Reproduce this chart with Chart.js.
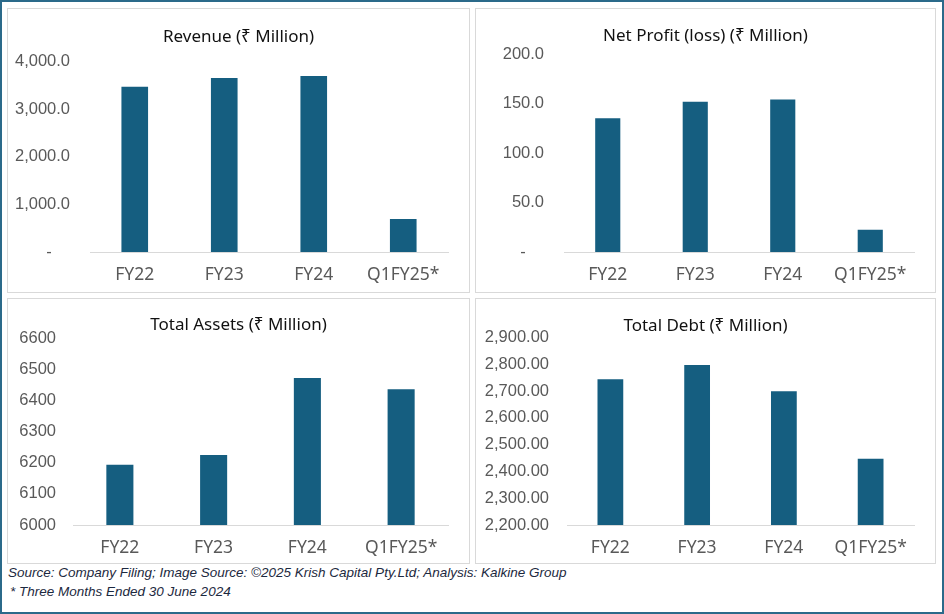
<!DOCTYPE html>
<html>
<head>
<meta charset="utf-8">
<script src="https://cdn.jsdelivr.net/npm/chart.js@4.4.1/dist/chart.umd.min.js"></script>
<style>
  body { margin: 0; background: #fff; }
  #frame {
    position: relative; width: 940px; height: 610px;
    border: 2px solid #2b6a8a; background: #fff; overflow: hidden;
  }
  .panel { position: absolute; border: 1px solid #d9d9d9; background: #fff; }
  .panel canvas { display: block; }
  .note {
    position: absolute; left: 6px; font: italic 13.5px "Liberation Sans", Arial, sans-serif;
    color: #1c2940; white-space: nowrap;
  }
</style>
</head>
<body>
<div id="frame">
  <div class="panel" style="left:5px;top:6px;width:461px;height:283px"><canvas id="c1" width="461" height="283"></canvas></div>
  <div class="panel" style="left:473px;top:6px;width:459px;height:283px"><canvas id="c2" width="459" height="283"></canvas></div>
  <div class="panel" style="left:5px;top:296px;width:461px;height:264px"><canvas id="c3" width="461" height="264"></canvas></div>
  <div class="panel" style="left:473px;top:296px;width:459px;height:264px"><canvas id="c4" width="459" height="264"></canvas></div>
  <div class="note" style="top:563px">Source: Company Filing; Image Source: ©2025 Krish Capital Pty.Ltd; Analysis: Kalkine Group</div>
  <div class="note" style="top:582px;left:8px">* Three Months Ended 30 June 2024</div>
</div>
<script>
// periods on the x axis
const periods = ["FY22", "FY23", "FY24", "Q1FY25*"];

// values (₹ Million)
const revenue = [3490, 3670, 3715, 715];
const netProfit = [136.5, 153.0, 155.3, 23.5];
const totalAssets = [6197, 6228, 6476, 6440];
const totalDebt = [2748, 2801, 2703, 2451];

const barColor = "#155e80";
const textFont = "'Noto Sans', 'DejaVu Sans', sans-serif";
const tickFont = "'Liberation Sans', Arial, sans-serif";

function fmt(decimals, dashZero, grouping) {
  return function (v) {
    if (dashZero && v === 0) return "-    ";
    return v.toLocaleString("en-US", {
      minimumFractionDigits: decimals, maximumFractionDigits: decimals, useGrouping: grouping,
    });
  };
}

function makeChart(id, title, values, y, g) {
  const ctx = document.getElementById(id).getContext("2d");
  return new Chart(ctx, {
    type: "bar",
    data: {
      labels: periods,
      datasets: [{
        data: values,
        backgroundColor: barColor,
        borderColor: "rgba(255,255,255,0.5)",
        borderWidth: 1,
        barPercentage: g.bar,
        categoryPercentage: 1,
      }],
    },
    options: {
      responsive: false,
      animation: false,
      layout: { padding: 0 },
      plugins: {
        legend: { display: false },
        tooltip: { enabled: false },
        title: {
          display: true,
          text: title,
          color: "#111",
          font: { family: textFont, size: 17, weight: "normal" },
          padding: { top: g.titleTop, bottom: g.titleBottom },
        },
      },
      scales: {
        x: {
          grid: { display: true, drawOnChartArea: false, drawTicks: false },
          border: { display: true, color: "#d9d9d9", width: 1 },
          ticks: { color: "#595959", font: { family: textFont, size: 17.5 }, padding: 13 },
          afterFit: (s) => { s.height = g.xh; },
        },
        y: {
          min: y.min, max: y.max,
          grid: { display: false, drawTicks: false },
          border: { display: false },
          ticks: { stepSize: y.step, color: "#595959", font: { family: tickFont, size: 16.5 }, padding: g.pad, callback: y.fmt },
          afterFit: (s) => { s.width = g.yw; },
        },
        // empty right-hand gutter so the title stays centred on the panel
        gutter: {
          type: "linear", position: "right", display: true,
          grid: { display: false }, border: { display: false }, ticks: { display: false },
          afterFit: (s) => { s.width = 21; },
        },
      },
    },
  });
}

makeChart("c1", "Revenue (₹ Million)", revenue,
  { min: 0, max: 4000, step: 1000, fmt: fmt(1, true, true) },
  { yw: 82, xh: 40, titleTop: 18, titleBottom: 14, pad: 20, bar: 0.32 });

makeChart("c2", "Net Profit (loss) (₹ Million)", netProfit,
  { min: 0, max: 200, step: 50, fmt: fmt(1, true, true) },
  { yw: 88, xh: 40, titleTop: 17, titleBottom: 8, pad: 20, bar: 0.31 });

makeChart("c3", "Total Assets (₹ Million)", totalAssets,
  { min: 6000, max: 6600, step: 100, fmt: fmt(0, false, false) },
  { yw: 65, xh: 38, titleTop: 16, titleBottom: 3, pad: 17, bar: 0.31 });

makeChart("c4", "Total Debt (₹ Million)", totalDebt,
  { min: 2200, max: 2900, step: 100, fmt: fmt(2, false, true) },
  { yw: 91, xh: 38, titleTop: 17, titleBottom: 1, pad: 18, bar: 0.32 });
</script>
</body>
</html>
